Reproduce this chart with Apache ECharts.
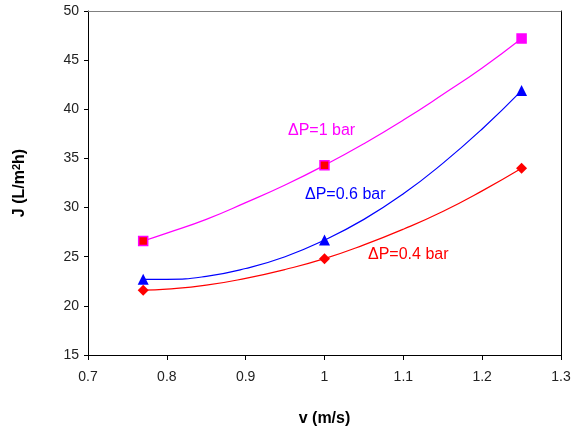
<!DOCTYPE html>
<html>
<head>
<meta charset="utf-8">
<script src="https://cdn.jsdelivr.net/npm/echarts@6/dist/echarts.min.js"></script>
<style>
  html, body { margin: 0; padding: 0; background: #fff; }
  #chart { width: 571px; height: 430px; }
</style>
</head>
<body>
<div id="chart"></div>
<script>
// measured points (v in m/s, J in L/m2h)
var velocity = [0.77, 1.0, 1.25]
var flux1bar = [26.6, 34.3, 47.2]
var flux06bar = [22.7, 26.7, 41.9]
var flux04bar = [21.6, 24.8, 34.0]

// trend curves
var curveV = [0.77, 0.8, 0.85, 0.9, 0.95, 1.0, 1.05, 1.1, 1.15, 1.2, 1.25]
var curve1bar = [26.6, 27.4, 28.8, 30.5, 32.3, 34.3, 36.5, 38.9, 41.5, 44.2, 47.2]
var curve06bar = [22.7, 22.7, 23.0, 23.8, 25.0, 26.7, 28.8, 31.4, 34.5, 38.0, 41.9]
var curve04bar = [21.6, 21.7, 22.1, 22.8, 23.7, 24.8, 26.2, 27.8, 29.6, 31.7, 34.0]

var xTicks = ['0.7', '0.8', '0.9', '1', '1.1', '1.2', '1.3']

function pairs (xs, ys) {
  return xs.map(function (x, i) { return [x, ys[i]] })
}

var font = 'Arial, "Liberation Sans", sans-serif'
var dom = document.getElementById('chart')
var myChart = echarts.init(dom, null, { renderer: 'canvas' })

function curve (name, ys, color) {
  return {
    name: name,
    type: 'line',
    data: pairs(curveV, ys),
    smooth: true,
    showSymbol: false,
    silent: true,
    lineStyle: { color: color, width: 1.2 },
    z: 2
  }
}

function marks (name, ys, symbol, size, color, border) {
  return {
    name: name,
    type: 'scatter',
    data: pairs(velocity, ys),
    symbol: symbol,
    symbolSize: size,
    itemStyle: { color: color, borderColor: border || color, borderWidth: border ? 1.5 : 0, opacity: 1 },
    z: 3
  }
}

var sq = marks('1 bar', flux1bar, 'rect', 9, '#ff0000', '#ff00ff')
sq.data[2] = { value: sq.data[2], itemStyle: { color: '#ff00ff', borderColor: '#ff00ff' } }

var option = {
  animation: false,
  backgroundColor: '#fff',
  grid: { left: 88, right: 10, top: 11, bottom: 75, containLabel: false, outerBoundsMode: 'none' },
  xAxis: [
    {
      type: 'value',
      min: 0.7,
      max: 1.3,
      interval: 0.1,
      name: 'v (m/s)',
      nameLocation: 'middle',
      nameGap: 56,
      nameTextStyle: { fontFamily: font, fontSize: 16, fontWeight: 'bold', color: '#000' },
      axisLine: { lineStyle: { color: '#000', width: 1 } },
      axisTick: { length: 5, lineStyle: { color: '#000' } },
      axisLabel: {
        margin: 15,
        fontFamily: font,
        fontSize: 14,
        color: '#222',
        formatter: function (v) { return xTicks[Math.round((v - 0.7) * 10)] }
      },
      splitLine: { show: false }
    },
    {
      type: 'value',
      position: 'top',
      min: 0.7,
      max: 1.3,
      axisLine: { show: true, lineStyle: { color: '#808080', width: 1 } },
      axisTick: { show: false },
      axisLabel: { show: false },
      splitLine: { show: false }
    }
  ],
  yAxis: [
    {
      type: 'value',
      min: 15,
      max: 50,
      interval: 5,
      name: 'J (L/m{sup|2}h)',
      nameLocation: 'middle',
      nameGap: 60,
      nameRotate: 90,
      nameTextStyle: {
        fontFamily: font, fontSize: 16, fontWeight: 'bold', color: '#000',
        rich: { sup: { fontFamily: font, fontSize: 11, fontWeight: 'bold', color: '#000', verticalAlign: 'top', padding: [0, 0, 6, 0] } }
      },
      axisLine: { show: true, lineStyle: { color: '#000', width: 1 } },
      axisTick: { show: true, length: 4, lineStyle: { color: '#000' } },
      axisLabel: { margin: 9, fontFamily: font, fontSize: 14, color: '#222' },
      splitLine: { show: false }
    },
    {
      type: 'value',
      position: 'right',
      min: 15,
      max: 50,
      axisLine: { show: true, lineStyle: { color: '#000', width: 1 } },
      axisTick: { show: false },
      axisLabel: { show: false },
      splitLine: { show: false }
    }
  ],
  graphic: [
    { type: 'text', left: 288, top: 123, style: { text: 'ΔP=1 bar', fill: '#ff00ff', font: '16px ' + font } },
    { type: 'text', left: 305, top: 187, style: { text: 'ΔP=0.6 bar', fill: '#0000ff', font: '16px ' + font } },
    { type: 'text', left: 368, top: 247, style: { text: 'ΔP=0.4 bar', fill: '#ff0000', font: '16px ' + font } }
  ],
  series: [
    curve('1 bar curve', curve1bar, '#ff00ff'),
    curve('0.6 bar curve', curve06bar, '#0000ff'),
    curve('0.4 bar curve', curve04bar, '#ff0000'),
    sq,
    marks('0.6 bar', flux06bar, 'triangle', 11, '#0000ff'),
    marks('0.4 bar', flux04bar, 'diamond', 11, '#ff0000')
  ]
}

myChart.setOption(option, true)
</script>
</body>
</html>
